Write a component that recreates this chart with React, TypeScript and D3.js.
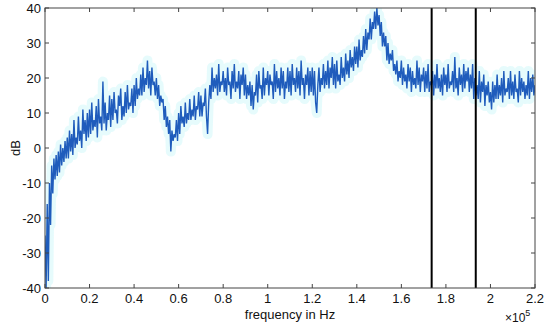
import React from "react";
import * as d3 from "d3";

const FREQ_STEP = 500;
const levelDb = [
  -25, -40, -16, -38, -10, -22, -5, -13, -3, -9, -2, -8, -1, -7, 1, -5, 0, -4, 2, -3,
  3, -3, 5, -1, 4, -2, 8, 0, 3, 1, 9, 2, 5, 0, 11, 4, 8, 2, 10, 3,
  11, 4, 13, 5, 8, 6, 12, 3, 14, 7, 9, 5, 19, 7, 13, 5, 10, 8, 15, 6,
  14, 8, 16, 10, 11, 7, 15, 12, 17, 8, 12, 9, 16, 10, 18, 11, 13, 12, 17, 10,
  18, 12, 20, 14, 17, 15, 21, 15, 23, 16, 20, 18, 25, 17, 22, 15, 23, 18, 19, 15,
  20, 14, 18, 12, 15, 13, 14, 8, 12, 6, 9, 4, 8, -1, 5, 2, 4, 3, 8, 2,
  10, 4, 12, 7, 9, 6, 13, 7, 10, 8, 14, 8, 11, 9, 15, 8, 12, 11, 16, 9,
  15, 9, 13, 12, 17, 9, 4, 13, 18, 14, 23, 16, 20, 17, 21, 15, 24, 16, 19, 18,
  22, 16, 20, 15, 23, 18, 19, 14, 22, 17, 24, 16, 19, 17, 22, 14, 21, 18, 23, 15,
  21, 14, 18, 15, 19, 12, 18, 11, 16, 15, 21, 13, 22, 17, 18, 14, 23, 15, 20, 18,
  22, 15, 21, 18, 19, 14, 24, 16, 22, 17, 20, 15, 23, 17, 22, 14, 19, 17, 23, 16,
  22, 15, 24, 18, 20, 16, 23, 17, 22, 15, 25, 18, 20, 14, 21, 18, 23, 15, 22, 16,
  23, 15, 22, 13, 10, 18, 23, 16, 20, 18, 24, 17, 22, 18, 25, 17, 23, 20, 26, 18,
  24, 17, 25, 19, 21, 18, 26, 20, 23, 19, 27, 21, 25, 20, 28, 23, 26, 22, 29, 24,
  29, 23, 31, 25, 28, 26, 32, 27, 34, 28, 33, 31, 37, 31, 36, 34, 39, 34, 40, 35,
  38, 32, 36, 29, 33, 29, 32, 25, 30, 24, 27, 25, 28, 22, 24, 21, 25, 19, 22, 20,
  25, 18, 23, 19, 21, 17, 24, 19, 23, 16, 22, 18, 20, 17, 25, 18, 23, 16, 21, 19,
  23, 16, 22, 17, 24, 16, 19, 18, 22, 15, 21, 17, 24, 17, 20, 16, 21, 15, 23, 18,
  21, 16, 24, 17, 19, 18, 22, 16, 26, 17, 20, 15, 23, 18, 21, 16, 24, 17, 22, 19,
  23, 16, 21, 17, 24, 14, 20, 15, 18, 14, 22, 13, 19, 16, 21, 12, 18, 15, 19, 13,
  16, 11, 19, 13, 18, 14, 21, 14, 18, 15, 20, 13, 22, 15, 17, 16, 20, 14, 22, 15,
  19, 14, 21, 16, 17, 13, 22, 15, 20, 16, 19, 14, 18, 15, 22, 14, 20, 16, 21, 15, 18,
];

const xTickValues = [0, 20000, 40000, 60000, 80000, 100000, 120000, 140000, 160000, 180000, 200000, 220000];
const xTickLabels = ["0", "0.2", "0.4", "0.6", "0.8", "1", "1.2", "1.4", "1.6", "1.8", "2", "2.2"];
const yTickValues = [-40, -30, -20, -10, 0, 10, 20, 30, 40];
// the two vertical marker lines
const markerFreqs = [173600, 193400];

const W = 550;
const H = 329;
const left = 45, right = 535, top = 8, bottom = 288;

export default function App() {
  const x = d3.scaleLinear().domain([0, 220000]).range([left, right]);
  const y = d3.scaleLinear().domain([-40, 40]).range([bottom, top]);

  const line = d3
    .line<number>()
    .x((d, i) => x(i * FREQ_STEP))
    .y((d) => y(d));
  const path = line(levelDb) || "";

  const font = "'Liberation Sans', Arial, sans-serif";
  const tickLen = 4;

  return (
    <svg width={W} height={H} style={{ position: "absolute", left: 0, top: 0, background: "#fff" }}>
      <defs>
        <clipPath id="plot">
          <rect x={left} y={top} width={right - left} height={bottom - top} />
        </clipPath>
      </defs>

      <g clipPath="url(#plot)">
        <path d={path} fill="none" stroke="#d2f8fa" strokeWidth={10} opacity={0.55} strokeLinejoin="round" />
        <path d={path} fill="none" stroke="#1f5cbc" strokeWidth={1.4} strokeLinejoin="miter" />
        {markerFreqs.map((f) => (
          <line key={f} x1={x(f)} x2={x(f)} y1={top} y2={bottom} stroke="#000" strokeWidth={2} />
        ))}
      </g>

      {/* box */}
      <rect x={left} y={top} width={right - left} height={bottom - top} fill="none" stroke="#444" strokeWidth={1} />

      {/* x ticks */}
      {xTickValues.map((v, i) => (
        <g key={v}>
          <line x1={x(v)} x2={x(v)} y1={bottom} y2={bottom - tickLen} stroke="#444" />
          <line x1={x(v)} x2={x(v)} y1={top} y2={top + tickLen} stroke="#444" />
          <text x={x(v)} y={303} textAnchor="middle" fontFamily={font} fontSize={13} fill="#111">
            {xTickLabels[i]}
          </text>
        </g>
      ))}

      {/* y ticks */}
      {yTickValues.map((v) => (
        <g key={v}>
          <line x1={left} x2={left + tickLen} y1={y(v)} y2={y(v)} stroke="#444" />
          <line x1={right} x2={right - tickLen} y1={y(v)} y2={y(v)} stroke="#444" />
          <text x={41} y={y(v) + 4.5} textAnchor="end" fontFamily={font} fontSize={13} fill="#111">
            {v}
          </text>
        </g>
      ))}

      <text
        transform={`translate(20,148) rotate(-90)`}
        textAnchor="middle"
        fontFamily={font}
        fontSize={13}
        fill="#111"
      >
        dB
      </text>
      <text x={290} y={319} textAnchor="middle" fontFamily={font} fontSize={13} fill="#111">
        frequency in Hz
      </text>
      <text x={505} y={322} fontFamily={font} fontSize={12} fill="#111">
        ×10
        <tspan dy={-6} fontSize={9}>5</tspan>
      </text>
    </svg>
  );
}
